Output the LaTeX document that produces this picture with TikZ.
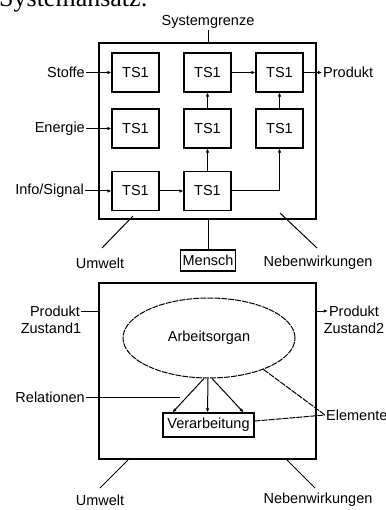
\documentclass[tikz,border=0pt]{standalone}
\usepackage{fontspec}
\setmainfont{Liberation Sans}
\newfontfamily\titelfont{Liberation Serif}
\usetikzlibrary{arrows.meta,shapes.geometric}

\begin{document}
\begin{tikzpicture}[x=1pt, y=-1pt,
  txt/.style={font=\fontsize{14.5}{16}\selectfont, inner sep=1pt},
  tsbox/.style={draw, line width=1.2pt, minimum width=47pt, minimum height=39pt, inner sep=0pt, font=\fontsize{14.5}{16}\selectfont},
  rahmen/.style={draw, line width=1.2pt, minimum width=217pt, minimum height=176pt, inner sep=0pt},
  pfeil/.style={-{Latex[length=4pt,width=3.5pt]}, line width=1pt},
  strich/.style={line width=1pt},
  gestrichelt/.style={line width=1pt, dash pattern=on 6pt off 1pt}]
\useasboundingbox (0,0) rectangle (385,510);

% Titel
\node[anchor=base west, inner sep=0pt, font=\titelfont\fontsize{26}{28}\selectfont] (titel) at (-1,6.5) {Systemansatz:};

% oberes System
\node[rahmen] (sys1) at (207.5,131) {};
\node[txt] (grenze) at (208,22) {Systemgrenze};
\draw[strich] (grenze.south) -- (grenze.south |- sys1.north);

\node[tsbox] (ts11) at (135.5,72.5) {TS1};
\node[tsbox] (ts12) at (207.5,72.5) {TS1};
\node[tsbox] (ts13) at (279.5,72.5) {TS1};
\node[tsbox] (ts21) at (135.5,128.5) {TS1};
\node[tsbox] (ts22) at (207.5,128.5) {TS1};
\node[tsbox] (ts23) at (279.5,128.5) {TS1};
\node[tsbox] (ts31) at (135.5,191) {TS1};
\node[tsbox] (ts32) at (207.5,191) {TS1};

\node[txt, anchor=east] (stoffe) at (86,72.5) {Stoffe};
\node[txt, anchor=east] (energie) at (86,128.5) {Energie};
\node[txt, anchor=east] (info) at (85,191) {Info/Signal};
\node[txt, anchor=west] (produkt) at (322,72.5) {Produkt};

\draw[pfeil] (stoffe) -- (ts11);
\draw[pfeil] (energie) -- (ts21);
\draw[pfeil] (info) -- (ts31);
\draw[pfeil] (ts31) -- (ts32);
\draw[pfeil] (ts32) -- (ts22);
\draw[pfeil] (ts22) -- (ts12);
\draw[pfeil] (ts12) -- (ts13);
\draw[pfeil] (ts13) -- (produkt);
\draw[pfeil] (ts32) -| (ts23);
\draw[pfeil] (ts23) -- (ts13);

\node[txt] (umwelt1) at (100,263) {Umwelt};
\node[txt, draw, line width=1.2pt, minimum height=21pt, inner xsep=2pt] (mensch) at (208,260.5) {Mensch};
\node[txt] (neben1) at (318,263) {Nebenwirkungen};
\coordinate (uw1) at (133,216);
\coordinate (uw2) at (102,248);
\coordinate (nw1) at (280,213);
\coordinate (nw2) at (317,248);
\draw[strich] (uw1) -- (uw2);
\draw[strich] (nw1) -- (nw2);
\draw[strich] (mensch.north |- sys1.south) -- (mensch.north);

% unteres System
\node[rahmen] (sys2) at (207.5,371) {};
\node[txt, draw, ellipse, gestrichelt, minimum width=172pt, minimum height=80pt, inner sep=0pt] (organ) at (209,338) {Arbeitsorgan};
\node[txt, draw, line width=1.2pt, minimum width=91pt, minimum height=24pt] (verarb) at (208.5,425) {Verarbeitung};
\draw[pfeil] ([xshift=-5pt]organ.south) -- ([xshift=-36pt]verarb.north);
\draw[pfeil] ([xshift=-1pt]organ.south) -- ([xshift=-1pt]verarb.north);
\draw[pfeil] ([xshift=3pt]organ.south) -- ([xshift=35pt]verarb.north);

\node[txt] (produkt1) at (55,311) {Produkt};
\node[txt] (zustand1) at (51,328) {Zustand1};
\node[txt] (produkt2) at (354,311) {Produkt};
\node[txt] (zustand2) at (354,328) {Zustand2};
\draw[strich] (produkt1.east) -- (produkt1.east -| sys2.west);
\draw[pfeil] (sys2.east |- produkt2) -- (produkt2.west);

\node[txt, anchor=east] (relation) at (86,397) {Relationen};
\coordinate (rel) at (180,397);
\draw[strich] (relation) -- (rel);

\node[txt, anchor=west] (elemente) at (325,415) {Elemente};
\draw[gestrichelt] (organ.-30) -- (elemente.west);
\draw[gestrichelt] (verarb) -- (elemente.west);

\node[txt] (umwelt2) at (100,500) {Umwelt};
\node[txt] (neben2) at (318,500) {Nebenwirkungen};
\coordinate (uw3) at (128,460);
\coordinate (uw4) at (100,488);
\coordinate (nw3) at (287,460);
\coordinate (nw4) at (315,488);
\draw[strich] (uw3) -- (uw4);
\draw[strich] (nw3) -- (nw4);
\end{tikzpicture}
\end{document}
